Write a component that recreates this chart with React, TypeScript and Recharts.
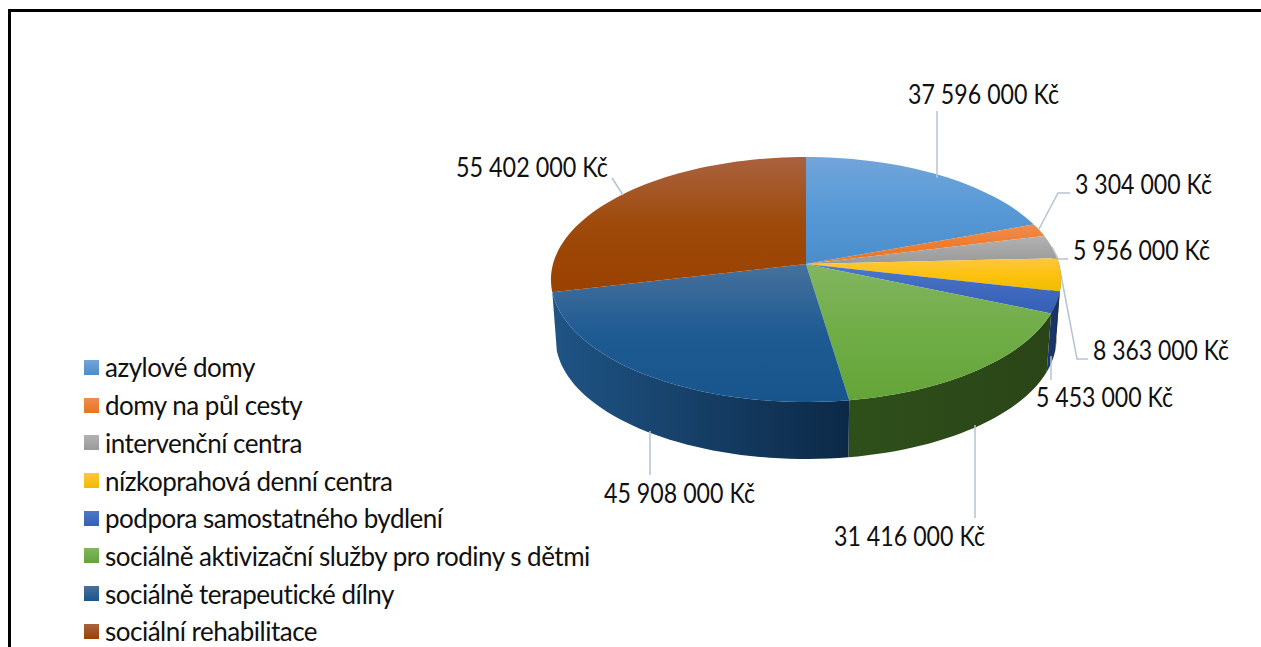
import { Legend, Pie, PieChart } from "recharts"

const categories = [
  "azylové domy",
  "domy na půl cesty",
  "intervenční centra",
  "nízkoprahová denní centra",
  "podpora samostatného bydlení",
  "sociálně aktivizační služby pro rodiny s dětmi",
  "sociálně terapeutické dílny",
  "sociální rehabilitace",
]
const amounts = [37596000, 3304000, 5956000, 8363000, 5453000, 31416000, 45908000, 55402000]

const topColors = [
  ["#72a5da", "#5699d6", "#4a8dcb"],
  ["#f08c4e", "#ed7d31", "#e8741f"],
  ["#b2b2b2", "#a5a5a5", "#9a9a9a"],
  ["#fdc740", "#fdc20f", "#efbb00"],
  ["#4d78c8", "#4069bf", "#3560b5"],
  ["#82b560", "#70ad47", "#63a437"],
  ["#47719c", "#1f5b93", "#18558c"],
  ["#aa623f", "#9e4a0a", "#9a4100"],
]
const wallColors = [
  ["#2f5f8f", "#244f7c"],
  ["#7a3f16", "#6a3610"],
  ["#555555", "#4d4d4d"],
  ["#7f6000", "#705400"],
  ["#1c3a70", "#172f5c"],
  ["#2e4f1a", "#2a4517"],
  ["#1f5485", "#0c2947"],
  ["#5a2800", "#4f2300"],
]

// label placement, leader line points
const labelAnchors = [
  { x: 908, y: 94, width: 151, line: [[937, 111], [937, 178]] },
  { x: 1075, y: 184, width: 137, line: [[1070, 193], [1058, 193], [1039, 229]] },
  { x: 1073, y: 250, width: 137, line: [[1068, 259], [1058, 259], [1052, 247]] },
  { x: 1093, y: 350, width: 136, line: [[1088, 359], [1077, 359], [1061, 275]] },
  { x: 1036, y: 397, width: 137, line: [[1051, 380], [1051, 356]] },
  { x: 834, y: 536, width: 151, line: [[975, 518], [975, 425]] },
  { x: 604, y: 493, width: 151, line: [[650, 475], [650, 431]] },
  { x: 456, y: 167, width: 152, line: [[612, 178], [623, 195]] },
]

const data = categories.map((name, i) => ({ name, value: amounts[i] }))

const FONT = "Lato, 'Noto Sans', sans-serif"
const PERSPECTIVE = 0.1266
const TILT = 120.5 / 253
const WALL_DROP = 59.5
const WALL_SCALE = 0.982
// the wall starts at the edge of the left front slice, not at the silhouette
const WALL_LEFT = -167
const WALL_RIGHT = (Math.asin(PERSPECTIVE) * 180) / Math.PI

const formatKc = (v: number) => `${String(v).replace(/\B(?=(\d{3})+$)/g, " ")} Kč`

// project a rim point of the flat pie on to the tilted plate
function project(cx: number, cy: number, r: number, deg: number, scale = 1, drop = 0) {
  const rad = (deg * Math.PI) / 180
  const u = Math.cos(rad)
  const v = -Math.sin(rad)
  const d = 1 - PERSPECTIVE * v
  return [cx + (scale * r * u) / d, cy + drop + (scale * r * TILT * v) / d]
}

function arc(start: number, end: number) {
  const steps = Math.max(2, Math.ceil(Math.abs(end - start) / 2))
  const out: number[] = []
  for (let i = 0; i <= steps; i++) out.push(start + ((end - start) * i) / steps)
  return out
}

const toPath = (pts: number[][]) => "M" + pts.map((p) => `${p[0].toFixed(1)} ${p[1].toFixed(1)}`).join("L") + "Z"

function TopFace(props: any) {
  const { cx, cy, outerRadius, startAngle, endAngle, index } = props
  const id = `top-${index}`
  const c = topColors[index]
  const pts = [[cx, cy], ...arc(startAngle, endAngle).map((a) => project(cx, cy, outerRadius, a))]
  return (
    <g>
      <defs>
        <linearGradient id={id} x1="0" y1="0" x2="0" y2="1">
          <stop offset="0%" stopColor={c[0]} />
          <stop offset="50%" stopColor={c[1]} />
          <stop offset="100%" stopColor={c[2]} />
        </linearGradient>
      </defs>
      <path d={toPath(pts)} fill={`url(#${id})`} />
    </g>
  )
}

function WallFace(props: any) {
  const { cx, cy, outerRadius, startAngle, endAngle, index } = props
  // only the part of the rim that faces the viewer
  const from = Math.min(startAngle, WALL_RIGHT)
  const to = Math.max(endAngle, WALL_LEFT)
  const id = `wall-${index}`
  const c = wallColors[index]
  if (from <= to) return <g />
  const angles = arc(from, to)
  const upper = angles.map((a) => project(cx, cy, outerRadius, a))
  const lower = angles.map((a) => project(cx, cy, outerRadius, a, WALL_SCALE, WALL_DROP)).reverse()
  return (
    <g>
      <defs>
        <linearGradient id={id} x1="0" y1="0" x2="1" y2="0">
          <stop offset="0%" stopColor={c[0]} />
          <stop offset="100%" stopColor={c[1]} />
        </linearGradient>
      </defs>
      <path d={toPath([...upper, ...lower])} fill={`url(#${id})`} />
    </g>
  )
}

function renderLabel(props: any) {
  const { index, value } = props
  const a = labelAnchors[index]
  return (
    <g key={index}>
      <polyline points={a.line.map((p) => p.join(",")).join(" ")} fill="none" stroke="#b5c3d6" strokeWidth={1.5} />
      <text
        x={a.x}
        y={a.y}
        dominantBaseline="central"
        fontFamily={FONT}
        fontSize={26}
        textLength={a.width}
        lengthAdjust="spacingAndGlyphs"
        fill="#111"
      >
        {formatKc(value)}
      </text>
    </g>
  )
}

function LegendList() {
  return (
    <div style={{ fontFamily: FONT, fontSize: 26, letterSpacing: -0.5, color: "#111" }}>
      {categories.map((name, i) => (
        <div key={name} style={{ display: "flex", alignItems: "center", height: 37.7, whiteSpace: "nowrap" }}>
          <span
            style={{
              width: 15,
              height: 15,
              marginRight: 6,
              flex: "none",
              background: `linear-gradient(${topColors[i][0]}, ${topColors[i][2]})`,
            }}
          />
          <span>{name}</span>
        </div>
      ))}
    </div>
  )
}

export default function App() {
  return (
    <div style={{ position: "absolute", left: 0, top: 0, width: 1261, height: 647, overflow: "hidden", background: "#fff" }}>
      <div style={{ position: "absolute", left: 8, top: 9, width: 1300, height: 700, borderLeft: "3px solid #000", borderTop: "3px solid #000" }} />
      <PieChart width={1261} height={647} margin={{ top: 0, right: 0, bottom: 0, left: 0 }} style={{ position: "absolute", left: 0, top: 0 }}>
        <Pie
          data={data}
          dataKey="value"
          nameKey="name"
          cx={806}
          cy={264}
          outerRadius={253}
          startAngle={90}
          endAngle={-270}
          stroke="none"
          legendType="none"
          shape={WallFace}
          isAnimationActive={false}
        />
        <Pie
          data={data}
          dataKey="value"
          nameKey="name"
          cx={806}
          cy={264}
          outerRadius={253}
          startAngle={90}
          endAngle={-270}
          stroke="none"
          shape={TopFace}
          label={renderLabel}
          labelLine={false}
          isAnimationActive={false}
        />
        <Legend
          layout="vertical"
          align="center"
          verticalAlign="middle"
          content={() => <LegendList />}
          wrapperStyle={{ left: 84, top: 348.6, width: 520 }}
        />
      </PieChart>
    </div>
  )
}
